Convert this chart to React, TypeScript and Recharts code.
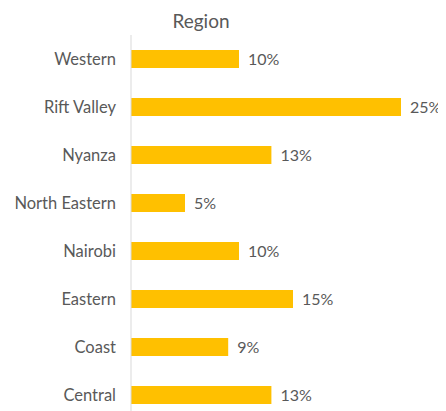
import React from 'react';
import { BarChart, Bar, XAxis, YAxis, LabelList } from 'recharts';

const regions = ['Western', 'Rift Valley', 'Nyanza', 'North Eastern', 'Nairobi', 'Eastern', 'Coast', 'Central'];
const shares = [10, 25, 13, 5, 10, 15, 9, 13];

const data = regions.map((r, i) => ({ region: r, share: shares[i] }));

const FONT = 'Lato, "Open Sans", sans-serif';

export default function App() {
  return (
    <div style={{ position: 'relative', width: 440, height: 420, fontFamily: FONT }}>
      <div
        style={{
          position: 'absolute',
          left: 0,
          width: 386,
          top: 1,
          textAlign: 'center',
          fontSize: 19,
          color: '#595959',
        }}
      >
        Region
      </div>
      <BarChart
        width={440}
        height={420}
        data={data}
        layout="vertical"
        margin={{ top: 27, right: 47, bottom: 9, left: 0 }}
        barCategoryGap={15}
      >
        <XAxis type="number" domain={[0, 25]} hide />
        <YAxis
          type="category"
          dataKey="region"
          width={123}
          tickLine={false}
          tickSize={0}
          tickMargin={15}
          axisLine={{ stroke: '#D9D9D9', strokeWidth: 1 }}
          tick={{ fill: '#595959', fontSize: 16.5, fontFamily: FONT }}
          interval={0}
        />
        <Bar dataKey="share" fill="#FFC000" barSize={18} isAnimationActive={false}>
          <LabelList
            dataKey="share"
            position="right"
            offset={9}
            formatter={(v: any) => `${v}%`}
            style={{ fill: '#595959', fontSize: 16, fontFamily: FONT }}
          />
        </Bar>
      </BarChart>
    </div>
  );
}
